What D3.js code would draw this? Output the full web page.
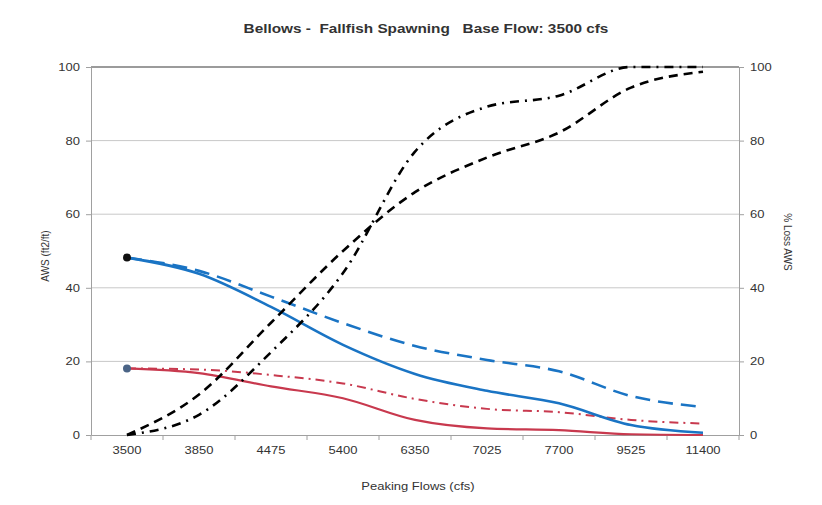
<!DOCTYPE html>
<html>
<head>
<meta charset="utf-8">
<script src="https://cdn.jsdelivr.net/npm/d3@7"></script>
<style>
  body { margin: 0; background: #fff; }
  text { font-family: "Liberation Sans", Arial, sans-serif; fill: #333; }
</style>
</head>
<body>
<div id="chart"></div>
<script>
// Peaking flow categories (cfs)
var flows = ["3500", "3850", "4475", "5400", "6350", "7025", "7700", "9525", "11400"];

// AWS (ft2/ft), left axis
var awsBlue      = [48.2, 43.8, 34.8, 24.5, 16.6, 12.0, 8.6, 2.7, 0.6];
var awsBlueDash  = [48.2, 44.6, 37.6, 30.4, 24.2, 20.4, 17.3, 10.6, 7.6];
var awsRed       = [18.1, 16.8, 13.2, 10.0, 4.1, 1.8, 1.3, 0.2, 0.0];
var awsRedDash   = [18.1, 17.8, 16.3, 14.0, 9.8, 7.1, 6.2, 4.1, 3.1];

// % Loss AWS, right axis
var lossDash     = [0, 11, 30.5, 50, 66, 75.4, 82.2, 94.4, 98.7];
var lossDashDot  = [0, 5.5, 22.5, 44, 77, 89.2, 92.2, 100, 100];

var yTicks = [0, 20, 40, 60, 80, 100];

var W = 822, H = 505;
var margin = {top: 67, right: 83, bottom: 70, left: 91};
var plotW = W - margin.left - margin.right,
    plotH = H - margin.top - margin.bottom;

// the source picture is stretched sideways, so horizontal text is widened
var STRETCH = 1.18;
function widen(sel) {
  sel.each(function() {
    var len = this.getComputedTextLength();
    d3.select(this)
      .attr("textLength", len * STRETCH)
      .attr("lengthAdjust", "spacingAndGlyphs");
  });
}

var svg = d3.select("#chart").append("svg")
    .attr("width", W)
    .attr("height", H);

var g = svg.append("g")
    .attr("transform", "translate(" + margin.left + "," + margin.top + ")");

var x = d3.scaleBand().domain(flows).range([0, plotW]).padding(0);
var yL = d3.scaleLinear().domain([0, 100]).range([plotH, 0]);
var yR = d3.scaleLinear().domain([0, 100]).range([plotH, 0]);
var cx = function(c) { return x(c) + x.bandwidth() / 2; };

// gridlines
g.selectAll("line.grid")
  .data(yTicks.filter(function(t) { return t > 0 && t < 100; }))
  .enter().append("line")
    .attr("x1", 0).attr("x2", plotW)
    .attr("y1", function(d) { return yL(d); })
    .attr("y2", function(d) { return yL(d); })
    .attr("stroke", "#c8c8c8")
    .attr("stroke-width", 1);

// top border
g.append("line")
  .attr("x1", 0).attr("x2", plotW)
  .attr("y1", yL(100)).attr("y2", yL(100))
  .attr("stroke", "#7a7a7a")
  .attr("stroke-width", 1.5);

// left axis
var leftAxis = g.append("g")
  .call(d3.axisLeft(yL).tickValues(yTicks).tickSize(5).tickSizeOuter(0).tickPadding(6));
leftAxis.selectAll("path, line").attr("stroke", "#a0a0a0");
leftAxis.selectAll("text").style("font-size", "11px").attr("fill", "#3a3a3a").call(widen);

// right axis
var rightAxis = g.append("g")
  .attr("transform", "translate(" + plotW + ",0)")
  .call(d3.axisRight(yR).tickValues(yTicks).tickSize(5).tickSizeOuter(0).tickPadding(6));
rightAxis.selectAll("path, line").attr("stroke", "#a0a0a0");
rightAxis.selectAll("text").style("font-size", "11px").attr("fill", "#3a3a3a").call(widen);

// bottom axis, ticks between categories like the original
var bottomAxis = g.append("g")
  .attr("transform", "translate(0," + plotH + ")")
  .call(d3.axisBottom(x).tickSize(0).tickSizeOuter(0).tickPadding(11));
bottomAxis.select("path").attr("stroke", "#a0a0a0");
bottomAxis.selectAll("text").style("font-size", "11px").attr("fill", "#3a3a3a").call(widen);
bottomAxis.selectAll("line.sep")
  .data(d3.range(flows.length + 1))
  .enter().append("line")
    .attr("class", "sep")
    .attr("x1", function(i) { return i * x.step(); })
    .attr("x2", function(i) { return i * x.step(); })
    .attr("y1", 0).attr("y2", 5)
    .attr("stroke", "#a0a0a0");

// lines
var lineL = d3.line()
  .x(function(d, i) { return cx(flows[i]); })
  .y(function(d) { return yL(d); })
  .curve(d3.curveMonotoneX);
var lineR = d3.line()
  .x(function(d, i) { return cx(flows[i]); })
  .y(function(d) { return yR(d); })
  .curve(d3.curveMonotoneX);

var series = [
  {vals: awsRedDash,  gen: lineL, color: "#c8394e", width: 2,   dash: "9,5,2,5"},
  {vals: awsRed,      gen: lineL, color: "#c8394e", width: 2.2, dash: null},
  {vals: awsBlueDash, gen: lineL, color: "#1a74c4", width: 2.6, dash: "15,8"},
  {vals: awsBlue,     gen: lineL, color: "#1a74c4", width: 2.6, dash: null},
  {vals: lossDash,    gen: lineR, color: "#000",    width: 2.6, dash: "9,6"},
  {vals: lossDashDot, gen: lineR, color: "#000",    width: 2.6, dash: "9,6,2,6"}
];

series.forEach(function(s) {
  g.append("path")
    .datum(s.vals)
    .attr("fill", "none")
    .attr("stroke", s.color)
    .attr("stroke-width", s.width)
    .attr("stroke-dasharray", s.dash)
    .attr("d", s.gen);
});

// start markers
g.append("circle")
  .attr("cx", cx(flows[0])).attr("cy", yL(awsBlue[0]))
  .attr("r", 4).attr("fill", "#111");
g.append("circle")
  .attr("cx", cx(flows[0])).attr("cy", yL(awsRed[0]))
  .attr("r", 4).attr("fill", "#4b6486");

// titles
svg.append("text")
  .attr("x", 426).attr("y", 33)
  .attr("text-anchor", "middle")
  .style("font-size", "13px")
  .style("font-weight", "bold")
  .style("white-space", "pre")
  .attr("fill", "#222")
  .text("Bellows -  Fallfish Spawning   Base Flow: 3500 cfs")
  .call(widen);

svg.append("text")
  .attr("transform", "translate(49,256) rotate(-90)")
  .attr("text-anchor", "middle")
  .style("font-size", "10px")
  .text("AWS (ft2/ft)");

svg.append("text")
  .attr("transform", "translate(784,242) rotate(90)")
  .attr("text-anchor", "middle")
  .style("font-size", "10px")
  .text("% Loss AWS");

svg.append("text")
  .attr("x", 418).attr("y", 490)
  .attr("text-anchor", "middle")
  .style("font-size", "11px")
  .text("Peaking Flows (cfs)")
  .call(widen);
</script>
</body>
</html>
